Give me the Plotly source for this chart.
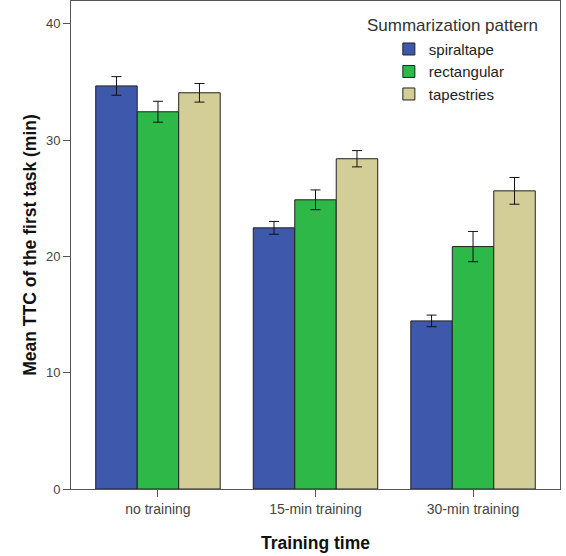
import plotly.graph_objects as go

categories = ["no training", "15-min training", "30-min training"]
series_names = ["spiraltape", "rectangular", "tapestries"]
spiraltape = [34.65, 22.45, 14.45]
rectangular = [32.43, 24.86, 20.84]
tapestries = [34.06, 28.39, 25.63]
spiraltape_err = [0.8, 0.55, 0.5]
rectangular_err = [0.9, 0.85, 1.3]
tapestries_err = [0.8, 0.7, 1.15]
y_ticks = [0, 10, 20, 30, 40]

colors = ["#3E58AC", "#2EB848", "#D3CE97"]

fig = go.Figure()
for name, vals, errs, c in zip(series_names,
                                [spiraltape, rectangular, tapestries],
                                [spiraltape_err, rectangular_err, tapestries_err],
                                colors):
    fig.add_trace(go.Bar(
        name=name, x=categories, y=vals,
        marker=dict(color=c, line=dict(color="#222222", width=1)),
        error_y=dict(type="data", array=errs, visible=True, color="#111111",
                     thickness=1, width=5),
    ))

FONT = "Liberation Sans, Arial, sans-serif"
fig.update_layout(
    width=566, height=556,
    margin=dict(l=71, r=6, t=1, b=67),
    barmode="group", bargap=0.21, bargroupgap=0,
    plot_bgcolor="white", paper_bgcolor="white",
    font=dict(family=FONT, color="#333333"),
    showlegend=True,
    legend=dict(x=0.650, y=0.935, xanchor="left", yanchor="top",
                font=dict(size=15, color="#222222"),
                bgcolor="rgba(0,0,0,0)", tracegroupgap=0, itemwidth=30),
    annotations=[dict(text="Summarization pattern", x=(452 - 71) / 489, y=1 - (25 - 1) / 488,
                      xref="paper", yref="paper", xanchor="center", yanchor="middle",
                      showarrow=False, font=dict(size=17, color="#333333", family=FONT))],
    xaxis=dict(range=[-0.552, 2.552], showline=True, linecolor="#555555", mirror=True,
               ticks="outside", ticklen=7, tickcolor="#555555",
               tickfont=dict(size=14, color="#444444"),
               title=dict(text="<b>Training time</b>", font=dict(size=17.5, color="#111111"), standoff=20)),
    yaxis=dict(range=[0, 41.95], showline=True, linecolor="#555555", mirror=True,
               ticks="outside", ticklen=7, tickcolor="#555555", tickvals=y_ticks,
               showgrid=False, zeroline=False,
               tickfont=dict(size=13, color="#444444"),
               title=dict(text="<b>Mean TTC of the first task (min)</b>", font=dict(size=17.5, color="#111111"), standoff=4)),
)
fig.write_html("out.html")
